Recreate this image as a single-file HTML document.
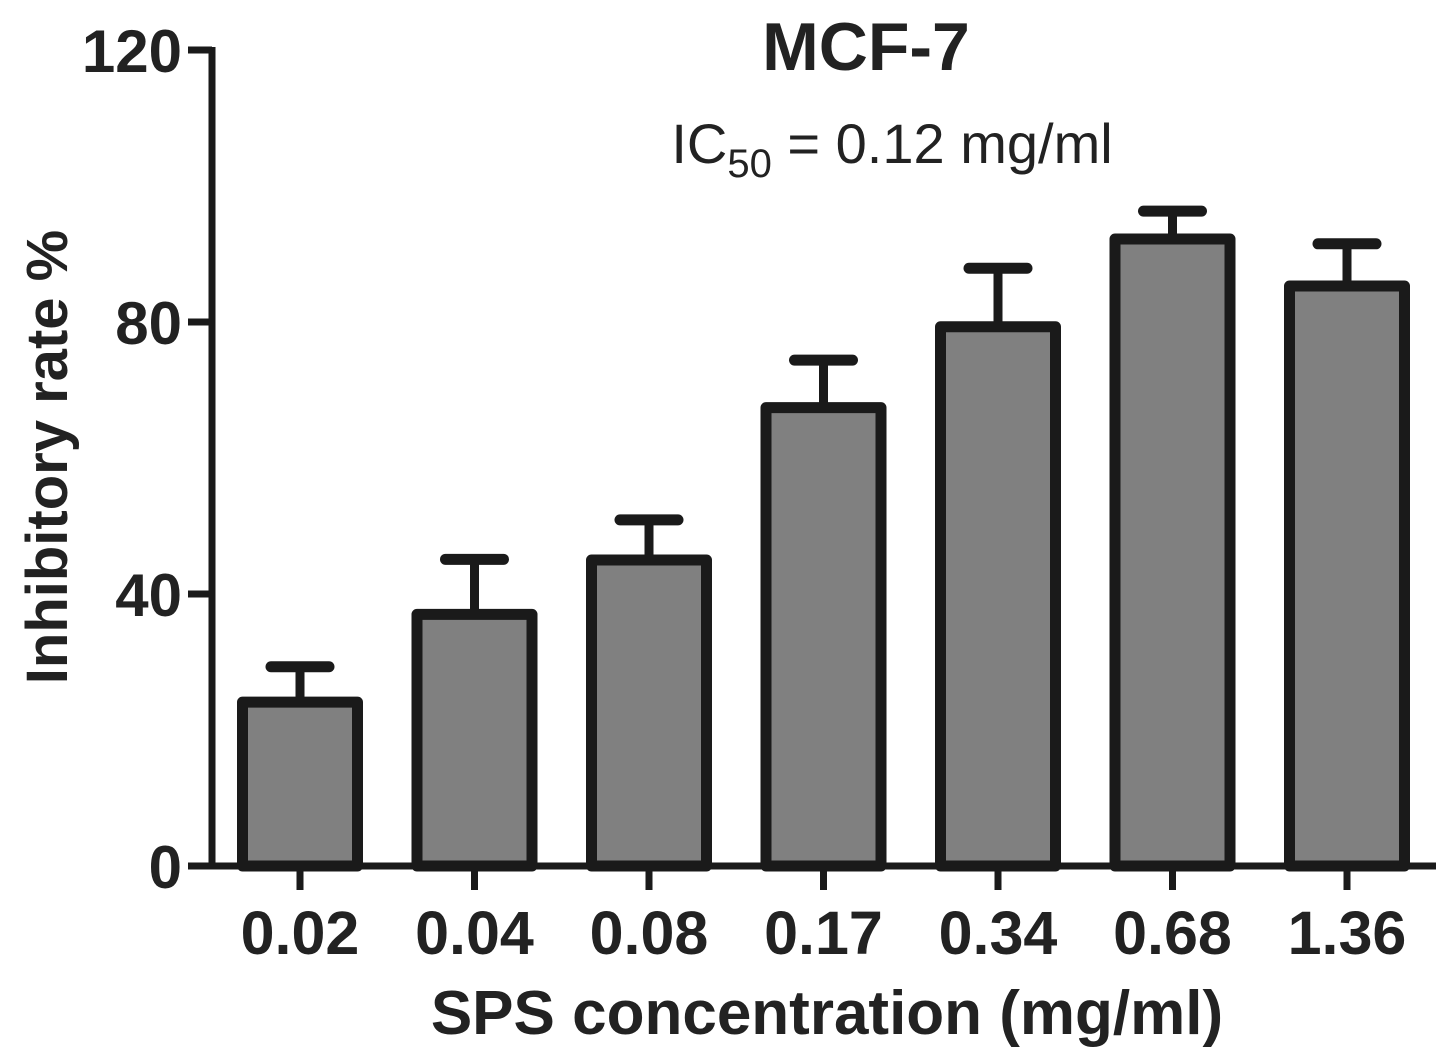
<!DOCTYPE html>
<html><head><meta charset="utf-8"><style>
html,body{margin:0;padding:0;background:#fff;}
svg{display:block;font-family:"Liberation Sans",Arial,sans-serif;}
</style></head><body>
<svg id="chart" width="1441" height="1056" viewBox="0 0 1441 1056">
<text x="866" y="70" text-anchor="middle" font-size="68" font-weight="bold" fill="#222">MCF-7</text>
<text x="892" y="163" text-anchor="middle" font-size="56" fill="#222">IC<tspan font-size="40" dy="14">50</tspan><tspan dy="-14"> = 0.12 mg/ml</tspan></text>
<text transform="translate(67,457) rotate(-90)" text-anchor="middle" font-size="58" font-weight="bold" fill="#222">Inhibitory rate %</text>
<text x="827" y="1034" text-anchor="middle" font-size="62" font-weight="bold" fill="#222">SPS concentration (mg/ml)</text>
<g id="plot"></g>
</svg>
<script>
const categories=["0.02","0.04","0.08","0.17","0.34","0.68","1.36"];
const values=[24.1,37,45,67.4,79.3,92.2,85.3];
const errors=[5.2,8.1,5.9,7,8.6,4.1,6.2];
const yTicks=[0,40,80,120];
const y0=866,ppu=6.8,x0=300,step=174.5,bw=115;
const ys=v=>y0-v*ppu;
const xs=i=>x0+i*step;
const ns="http://www.w3.org/2000/svg";
const g=document.getElementById('plot');
function mk(t,a){const e=document.createElementNS(ns,t);for(const k in a)e.setAttribute(k,a[k]);g.appendChild(e);return e;}
categories.forEach((c,i)=>{
 const cx=xs(i),top=ys(values[i]),et=ys(values[i]+errors[i]);
 let e=mk('line',{x1:cx,x2:cx,y1:top,y2:et,stroke:'#1a1a1a','stroke-width':9});
 
 
 e=mk('line',{x1:cx-29,x2:cx+29,y1:et,y2:et,stroke:'#1a1a1a','stroke-width':11,'stroke-linecap':'round'});
 
 
 e=mk('rect',{x:cx-bw/2,y:top,width:bw,height:y0-top,fill:'#808080',stroke:'#1a1a1a','stroke-width':11,'stroke-linejoin':'round'});
 
 
 e=mk('line',{x1:cx,x2:cx,y1:y0,y2:y0+24,stroke:'#1a1a1a','stroke-width':7});
 
 
 e=mk('text',{x:cx,y:954,'text-anchor':'middle','font-size':61,'font-weight':'bold',fill:'#222'});
 e.textContent=c;
 
 
});
yTicks.forEach(t=>{
 let e=mk('line',{x1:188,x2:212,y1:ys(t),y2:ys(t),stroke:'#1a1a1a','stroke-width':7});
 
 
 e=mk('text',{x:182,y:ys(t)+22,'text-anchor':'end','font-size':60,'font-weight':'bold',fill:'#222'});
 e.textContent=t;
 
 
});
let ax=mk('line',{x1:212,x2:212,y1:ys(120)-3,y2:y0+3,stroke:'#1a1a1a','stroke-width':7});


ax=mk('line',{x1:209,x2:1436,y1:y0,y2:y0,stroke:'#1a1a1a','stroke-width':7});


</script>
</body></html>
